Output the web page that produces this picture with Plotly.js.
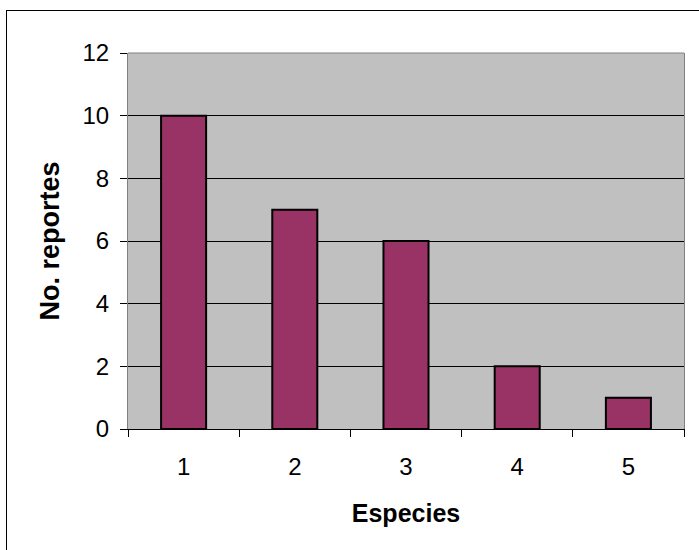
<!DOCTYPE html>
<html><head><meta charset="utf-8">
<script src="https://cdn.plot.ly/plotly-3.0.1.min.js"></script>
<style>body{margin:0;padding:0;background:#fff;overflow:hidden}
#frame{position:absolute;left:6px;top:10px;width:800px;height:800px;border:1px solid #000;pointer-events:none;z-index:10}</style>
</head><body>
<div id="chart" style="width:699px;height:550px"></div>
<div id="frame"></div>
<script>
const categories = ['1','2','3','4','5'];
const reportes = [10, 7, 6, 2, 1];
const yTicks = [0, 2, 4, 6, 8, 10, 12];

const font = 'Liberation Sans, Arial, sans-serif';
Plotly.newPlot('chart', [{
  type: 'bar', x: categories, y: reportes,
  marker: {color: '#993366', line: {color: '#000', width: 2}},
  hoverinfo: 'none'
}], {
  width: 699, height: 550,
  margin: {l: 128, r: 15, t: 53, b: 121},
  paper_bgcolor: '#fff', plot_bgcolor: '#c0c0c0',
  bargap: 0.595,
  showlegend: false,
  font: {family: font, color: '#000', size: 24},
  xaxis: {
    type: 'category', tickson: 'boundaries', ticks: 'outside', ticklen: 7, tickcolor: '#000',
    showline: true, linecolor: '#000', linewidth: 1, showgrid: false,
    ticklabelstandoff: 16,
    tickfont: {size: 24},
    title: {text: '<b>Especies</b>', font: {size: 25}, standoff: 25},
    automargin: false
  },
  yaxis: {
    range: [0, 12], tickvals: yTicks, ticks: 'outside', ticklen: 7, tickcolor: '#000',
    showline: true, linecolor: '#808080', linewidth: 1, mirror: true,
    showgrid: true, gridcolor: '#000', gridwidth: 1, zeroline: true, zerolinecolor: '#000',
    ticklabelstandoff: 6,
    tickfont: {size: 24},
    title: {text: '<b>No. reportes</b>', font: {size: 27}, standoff: 15},
    automargin: false
  },
  shapes: [{type: 'line', xref: 'paper', yref: 'paper', x0: 0, x1: 1, y0: 1, y1: 1, line: {color: '#808080', width: 1}, layer: 'above'}]
}, {staticPlot: true});
</script>
</body></html>
